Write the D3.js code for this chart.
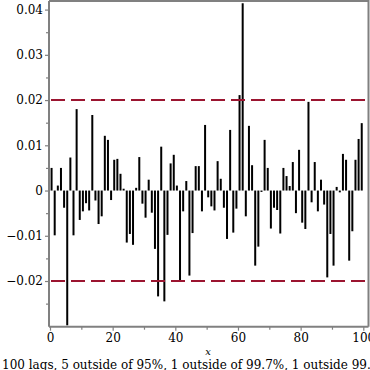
<!DOCTYPE html>
<html>
<head>
  <meta charset="utf-8">
  <title>ACF lags</title>
  <style>
  body { margin: 0; background: #fff; }
  svg { display: block; }
  text { font-family: "DejaVu Serif", serif; fill: #000; }
  </style>
</head>
<body>
  <svg width="370" height="370"></svg>
  <script src="https://d3js.org/d3.v7.min.js"></script>
  <script>
  // autocorrelation per lag (lag 1..100)
  var lags = d3.range(1, 101);
  var acf = [
     0.0050, -0.0099,  0.0011,  0.0050, -0.0038, -0.0298,  0.0073, -0.0099,  0.0180, -0.0065,
    -0.0046, -0.0028, -0.0044,  0.0167, -0.0022, -0.0074, -0.0057,  0.0121,  0.0112, -0.0021,
     0.0068,  0.0070,  0.0037,  0.0004, -0.0115, -0.0096, -0.0120,  0.0006,  0.0074, -0.0029,
    -0.0060,  0.0024, -0.0049, -0.0129, -0.0234,  0.0097, -0.0245, -0.0098,  0.0060,  0.0079,
     0.0011, -0.0199, -0.0046,  0.0021, -0.0188, -0.0094,  0.0054,  0.0054, -0.0046,  0.0145,
    -0.0015, -0.0035, -0.0044,  0.0065,  0.0026, -0.0038, -0.0107,  0.0134, -0.0093, -0.0040,
     0.0211,  0.0414, -0.0057,  0.0143,  0.0056, -0.0166, -0.0124, -0.0003,  0.0112,  0.0050,
    -0.0084, -0.0038, -0.0043, -0.0095,  0.0050,  0.0032,  0.0010,  0.0063, -0.0050,  0.0090,
    -0.0071, -0.0085,  0.0196, -0.0026,  0.0063, -0.0046,  0.0024, -0.0031, -0.0192, -0.0096,
    -0.0166,  0.0008, -0.0004,  0.0081,  0.0068, -0.0155, -0.0090,  0.0068,  0.0114,  0.0149
  ];
  var bands = [0.02, -0.02];
  var yTicks = [-0.02, -0.01, 0, 0.01, 0.02, 0.03, 0.04];
  var yMinor = [-0.025, -0.015, -0.005, 0.005, 0.015, 0.025, 0.035];
  var xTicks = [0, 20, 40, 60, 80, 100];
  var xMinor = [10, 30, 50, 70, 90];
  var title = "100 lags, 5 outside of 95%, 1 outside of 99.7%, 1 outside 99.9%";

  var svg = d3.select("svg");

  // plot frame (window.top is reserved, hence the names)
  var frameL = 49, frameR = 368.5, frameT = 1, frameB = 326.7;

  var x = d3.scaleLinear().domain([0, 100]).range([50, 363.3]);
  var y = d3.scaleLinear().domain([-0.0301, 0.0419]).range([frameB, frameT]);

  var fmt = function(d) {
    if (d === 0) return "0";
    return (d < 0 ? "\u2212" : "") + Math.abs(d).toFixed(2);
  };

  // bars
  svg.append("g")
    .selectAll("rect")
    .data(acf)
    .join("rect")
    .attr("x", function(d, i) { return x(lags[i] - 0.5) - 1; })
    .attr("width", 2)
    .attr("y", function(d) { return y(Math.max(0, d)); })
    .attr("height", function(d) { return Math.abs(y(d) - y(0)); })
    .attr("fill", "#000");

  // confidence bands
  svg.append("g")
    .selectAll("line")
    .data(bands)
    .join("line")
    .attr("x1", frameL + 2).attr("x2", frameR)
    .attr("y1", function(d) { return y(d); })
    .attr("y2", function(d) { return y(d); })
    .attr("stroke", "#9b1530")
    .attr("stroke-width", 2)
    .attr("stroke-dasharray", "14,6");

  // frame top / right
  svg.append("path")
    .attr("d", "M" + frameL + "," + frameT + "H" + frameR + "V" + frameB)
    .attr("fill", "none")
    .attr("stroke", "#808080")
    .attr("stroke-width", 2);

  // y axis
  var gy = svg.append("g").attr("transform", "translate(" + frameL + ",0)");
  gy.call(d3.axisLeft(y).tickValues(yTicks).tickFormat(fmt).tickSize(4).tickPadding(2));
  gy.append("g").call(d3.axisLeft(y).tickValues(yMinor).tickFormat("").tickSize(3))
    .select(".domain").remove();
  gy.select(".domain").attr("d", "M0," + frameT + "V" + frameB);

  // x axis
  var gx = svg.append("g").attr("transform", "translate(0," + frameB + ")");
  gx.call(d3.axisBottom(x).tickValues(xTicks).tickFormat(d3.format("d")).tickSize(4).tickPadding(3));
  gx.append("g").call(d3.axisBottom(x).tickValues(xMinor).tickFormat("").tickSize(3))
    .select(".domain").remove();
  gx.select(".domain").attr("d", "M" + frameL + ",0H" + frameR);

  svg.selectAll(".domain").attr("stroke", "#808080").attr("stroke-width", 2);
  svg.selectAll(".tick line").attr("stroke", "#808080").attr("stroke-width", 1.2);
  svg.selectAll(".tick text")
    .attr("font-family", "DejaVu Serif")
    .attr("font-size", 12)
    .attr("fill", "#000");

  // axis title
  svg.append("text")
    .attr("x", 208).attr("y", 355)
    .attr("text-anchor", "middle")
    .attr("font-size", 10)
    .attr("font-style", "italic")
    .text("x");

  svg.append("text")
    .attr("x", 2).attr("y", 369)
    .attr("font-size", 12)
    .text(title);
  </script>
</body>
</html>
